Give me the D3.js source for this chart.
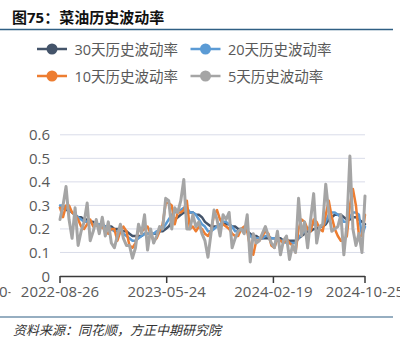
<!DOCTYPE html>
<html>
<head>
<meta charset="utf-8">
<script src="https://cdn.jsdelivr.net/npm/d3@7"></script>
<style>
  html, body { margin: 0; padding: 0; background: #fff; }
  svg { display: block; }
  text { font-family: "Open Sans", "Noto Sans CJK SC", sans-serif; }
</style>
</head>
<body>
<div id="chart"></div>
<script>
// Rapeseed oil historical volatility (30 / 20 / 10 / 5-day windows), sampled along the trading calendar
const seriesNames = ["30天历史波动率", "20天历史波动率", "10天历史波动率", "5天历史波动率"];
const seriesColors = ["#44546a", "#5b9bd5", "#ed7d31", "#a5a5a5"];

const vol30 = [0.29,0.29,0.28,0.28,0.27,0.26,0.25,0.25,0.24,0.24,0.23,0.23,0.22,0.22,0.22,0.21,0.21,0.21,0.20,0.20,
  0.20,0.19,0.19,0.18,0.17,0.17,0.17,0.17,0.18,0.18,0.18,0.18,0.18,0.19,0.19,0.20,0.21,0.23,0.24,0.25,
  0.26,0.27,0.27,0.27,0.27,0.26,0.26,0.25,0.23,0.22,0.21,0.21,0.21,0.21,0.22,0.22,0.22,0.21,0.21,0.20,
  0.20,0.20,0.19,0.18,0.17,0.17,0.16,0.16,0.16,0.16,0.16,0.16,0.16,0.16,0.15,0.15,0.15,0.15,0.15,0.16,
  0.17,0.18,0.19,0.19,0.20,0.20,0.21,0.21,0.22,0.24,0.25,0.26,0.26,0.26,0.25,0.24,0.24,0.25,0.25,0.24,
  0.23,0.22];

const vol20 = [0.30,0.30,0.29,0.28,0.27,0.26,0.25,0.24,0.23,0.23,0.23,0.22,0.22,0.22,0.21,0.21,0.21,0.20,0.19,0.19,
  0.19,0.18,0.17,0.16,0.15,0.15,0.16,0.17,0.18,0.18,0.18,0.18,0.19,0.19,0.20,0.22,0.24,0.26,0.27,0.28,
  0.28,0.29,0.29,0.27,0.27,0.26,0.24,0.22,0.21,0.19,0.19,0.20,0.21,0.22,0.23,0.23,0.22,0.21,0.19,0.19,
  0.20,0.20,0.19,0.17,0.16,0.16,0.16,0.16,0.17,0.17,0.16,0.16,0.15,0.15,0.15,0.14,0.14,0.14,0.14,0.16,
  0.18,0.19,0.20,0.21,0.22,0.22,0.21,0.21,0.23,0.26,0.27,0.27,0.26,0.25,0.23,0.23,0.25,0.27,0.27,0.26,
  0.17,0.21];

const vol10 = [0.29,0.25,0.30,0.30,0.27,0.26,0.24,0.21,0.20,0.22,0.24,0.21,0.22,0.20,0.21,0.19,0.18,0.20,0.20,0.15,
  0.19,0.21,0.19,0.13,0.12,0.14,0.20,0.19,0.20,0.21,0.18,0.15,0.16,0.19,0.22,0.31,0.31,0.30,0.22,0.27,
  0.27,0.28,0.32,0.20,0.21,0.19,0.21,0.20,0.18,0.17,0.19,0.26,0.28,0.24,0.22,0.21,0.20,0.18,0.17,0.17,
  0.20,0.21,0.19,0.12,0.09,0.15,0.15,0.17,0.19,0.18,0.13,0.12,0.16,0.15,0.14,0.16,0.14,0.13,0.10,0.20,
  0.24,0.23,0.20,0.19,0.24,0.23,0.20,0.19,0.26,0.32,0.25,0.20,0.17,0.15,0.15,0.17,0.30,0.37,0.30,0.17,
  0.17,0.26];

const vol5 = [0.24,0.30,0.38,0.24,0.16,0.29,0.13,0.19,0.23,0.31,0.15,0.19,0.24,0.18,0.25,0.17,0.23,0.14,0.12,0.17,
  0.22,0.16,0.13,0.13,0.076,0.12,0.22,0.18,0.26,0.11,0.20,0.14,0.17,0.21,0.20,0.33,0.32,0.20,0.29,0.27,
  0.32,0.41,0.20,0.20,0.26,0.21,0.23,0.18,0.15,0.08,0.18,0.28,0.24,0.17,0.26,0.24,0.27,0.12,0.16,0.19,
  0.20,0.18,0.26,0.06,0.18,0.14,0.15,0.18,0.21,0.17,0.14,0.12,0.19,0.09,0.15,0.17,0.07,0.13,0.10,0.33,
  0.17,0.23,0.12,0.24,0.35,0.14,0.21,0.22,0.39,0.27,0.19,0.20,0.21,0.26,0.09,0.22,0.51,0.20,0.13,0.18,
  0.10,0.34];

const seriesValues = [vol30, vol20, vol10, vol5];

// Category ticks on the sample axis and their date labels
const tickIdx = [-23, 0, 35.33, 70.67, 101];
const tickLabels = ["2021-10-28", "2022-08-26", "2023-05-24", "2024-02-19", "2024-10-25"];
const yTicks = [0, 0.1, 0.2, 0.3, 0.4, 0.5, 0.6];

const W = 400, H = 344;
const svg = d3.select("#chart").append("svg").attr("width", W).attr("height", H);
svg.append("rect").attr("width", W).attr("height", H).attr("fill", "#fff");

// Title and rules
svg.append("text").attr("x", 12).attr("y", 23)
  .attr("font-size", 15).attr("font-weight", "bold").attr("fill", "#111")
  .text("图75：菜油历史波动率");
svg.append("line").attr("x1", 0).attr("x2", 393).attr("y1", 29.5).attr("y2", 29.5)
  .attr("stroke", "#2f5f84").attr("stroke-width", 1.5);
svg.append("line").attr("x1", 0).attr("x2", 393).attr("y1", 317).attr("y2", 317)
  .attr("stroke", "#2f5f84").attr("stroke-width", 1.2);
svg.append("text").attr("x", 13).attr("y", 335)
  .attr("font-size", 13).attr("font-style", "italic").attr("fill", "#333")
  .text("资料来源：同花顺，方正中期研究院");

// Legend: two rows, two columns
const legendPos = [[52, 49], [205.5, 49], [52, 76], [205.5, 76]];
seriesNames.forEach((name, i) => {
  const [cx, cy] = legendPos[i];
  const g = svg.append("g");
  g.append("line").attr("x1", cx - 15).attr("x2", cx + 15).attr("y1", cy).attr("y2", cy)
    .attr("stroke", seriesColors[i]).attr("stroke-width", 2.5);
  g.append("circle").attr("cx", cx).attr("cy", cy).attr("r", 5.5).attr("fill", seriesColors[i]);
  g.append("text").attr("x", cx + 22.5).attr("y", cy + 5.5)
    .attr("font-size", 14.5).attr("fill", "#595959").text(name);
});

// Scales
const x = d3.scaleLinear().domain([0, 101]).range([60, 365]);
const y = d3.scaleLinear().domain([0, 0.6]).range([276, 134.8]);

// Gridlines
svg.append("g").selectAll("line").data(yTicks.filter(v => v > 0)).join("line")
  .attr("x1", x(0)).attr("x2", x(101))
  .attr("y1", d => y(d)).attr("y2", d => y(d))
  .attr("stroke", "#d9dce9").attr("stroke-width", 1);

// Y labels
svg.append("g").selectAll("text").data(yTicks).join("text")
  .attr("x", 50).attr("y", d => y(d) + 5.5)
  .attr("text-anchor", "end").attr("font-size", 15).attr("fill", "#595959")
  .text(d => d === 0 ? "0" : d3.format(".1f")(d));

// Series lines
const line = d3.line().x((d, i) => x(i)).y(d => y(d));
const widths = [2.5, 2.5, 2.5, 3];
seriesValues.forEach((vals, k) => {
  svg.append("path").datum(vals)
    .attr("d", line)
    .attr("fill", "none")
    .attr("stroke", seriesColors[k])
    .attr("stroke-width", widths[k])
    .attr("stroke-linejoin", "round")
    .attr("stroke-linecap", "round");
});

// X axis
svg.append("line").attr("x1", x(0)).attr("x2", x(101)).attr("y1", 276.5).attr("y2", 276.5)
  .attr("stroke", "#3a3a3a").attr("stroke-width", 1.5);
svg.append("g").selectAll("line").data(tickIdx.filter(t => t >= 0)).join("line")
  .attr("x1", d => x(d)).attr("x2", d => x(d)).attr("y1", 276).attr("y2", 283)
  .attr("stroke", "#3a3a3a").attr("stroke-width", 1.5);

svg.append("clipPath").attr("id", "edgeClip")
  .append("rect").attr("x", 0).attr("y", 280).attr("width", 10.5).attr("height", 30);

svg.append("g").selectAll("text").data(tickIdx).join("text")
  .attr("x", d => x(d)).attr("y", 297)
  .attr("text-anchor", "middle").attr("font-size", 15).attr("fill", "#595959")
  .attr("clip-path", d => x(d) < 20 ? "url(#edgeClip)" : null)
  .text((d, i) => tickLabels[i]);
</script>
</body>
</html>
